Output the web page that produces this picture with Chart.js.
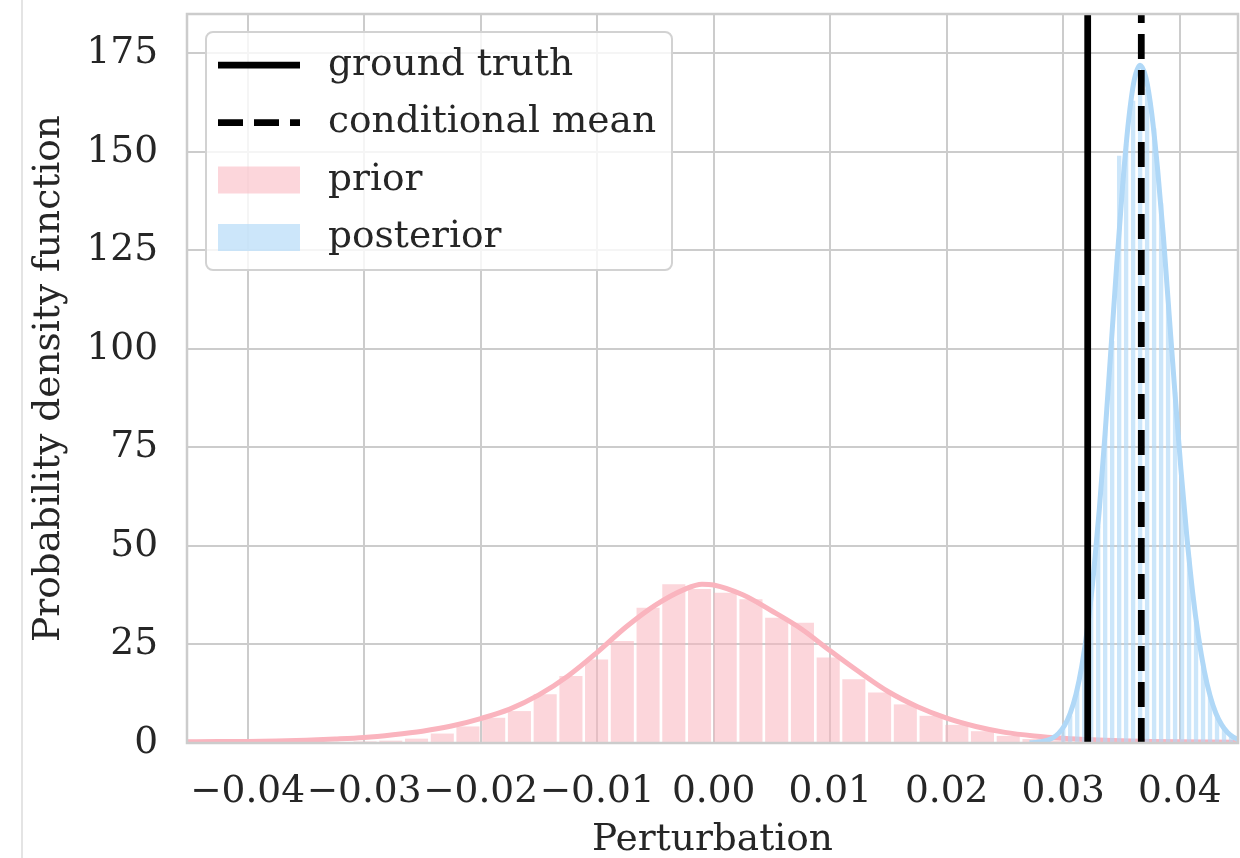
<!DOCTYPE html>
<html>
<head>
<meta charset="utf-8">
<title>Densité prior / posterior</title>
<script src="https://cdn.jsdelivr.net/npm/chart.js@4.4.1/dist/chart.umd.min.js"></script>
<style>
    body { margin: 0; background: #ffffff; }
    #cadre { position: relative; width: 1240px; height: 858px; }
    #bord { position: absolute; left: 21px; top: 0; width: 2px; height: 858px; background: #e4e4e4; }
</style>
</head>
<body>
<div id="cadre">
    <canvas id="graphe"></canvas>
    <div id="bord"></div>
</div>
<script>

// données

// histogramme du prior (centres des classes, densité)
var priorCentres = [-0.04317, -0.04096, -0.03875, -0.03654, -0.03433, -0.03213, -0.02992, -0.02771, -0.02550, -0.02329,
                    -0.02109, -0.01888, -0.01667, -0.01446, -0.01225, -0.01005, -0.00784, -0.00563, -0.00342, -0.00121,
                     0.00099,  0.00320,  0.00541,  0.00762,  0.00983,  0.01203,  0.01424,  0.01645,  0.01866,  0.02087,
                     0.02307,  0.02528,  0.02749,  0.02970,  0.03191,  0.03411,  0.03632,  0.03853,  0.04074];
var priorDensite = [0.02, 0.05, 0.05, 0.1, 0.15, 0.25, 0.4, 0.6, 1.1, 2.4,
                    4.2, 6.4, 8.1, 12.4, 17.0, 21.2, 25.9, 34.3, 40.3, 39.1,
                    38.1, 36.5, 31.8, 30.5, 21.7, 16.2, 12.8, 9.8, 6.9, 4.6,
                    3.0, 1.8, 1.0, 0.6, 0.35, 0.2, 0.1, 0.05, 0.03];

// courbe kde du prior
var priorKdeX = [-0.0455, -0.0425, -0.0400, -0.0375, -0.0350, -0.0325, -0.0300, -0.0275, -0.0250, -0.0225,
                 -0.0200, -0.0175, -0.0150, -0.0125, -0.0100, -0.0075, -0.0050, -0.0025, -0.0010, 0.0000,
                  0.0025,  0.0050,  0.0075,  0.0100,  0.0125,  0.0150,  0.0175,  0.0200,  0.0225, 0.0250,
                  0.0275,  0.0300,  0.0325,  0.0350,  0.0375,  0.0400,  0.0425,  0.0455];
var priorKdeY = [0.3, 0.35, 0.4, 0.5, 0.7, 1.0, 1.4, 2.1, 3.0, 4.3,
                 6.2, 8.6, 12.2, 17.0, 23.0, 29.5, 35.0, 39.0, 40.3, 40.1,
                 37.6, 33.5, 29.0, 23.4, 18.0, 13.0, 9.2, 6.3, 4.2, 2.7,
                 1.8, 1.2, 0.8, 0.55, 0.4, 0.3, 0.25, 0.2];

// histogramme du posterior
var postCentres = [0.0300, 0.0306, 0.0312, 0.0318, 0.0324, 0.0330, 0.0336, 0.0342, 0.0348, 0.0354,
                   0.0360, 0.0366, 0.0372, 0.0378, 0.0384, 0.0390, 0.0396, 0.0402, 0.0408, 0.0414,
                   0.0420, 0.0426, 0.0432, 0.0438, 0.0444, 0.0450];
var postDensite = [3.5, 7, 14, 22, 38, 55, 80, 102, 149, 152,
                   163, 170, 166, 156, 137, 111, 89, 65, 47, 31,
                   20, 12, 7, 4, 2, 1];

// courbe kde du posterior
var postKdeX = [0.0271, 0.0276, 0.0281, 0.0286, 0.0291, 0.0296, 0.0301, 0.0306, 0.0311, 0.0316,
                0.0321, 0.0326, 0.0331, 0.0336, 0.0341, 0.0346, 0.0351, 0.0356, 0.0361, 0.0366,
                0.0371, 0.0376, 0.0381, 0.0386, 0.0391, 0.0396, 0.0401, 0.0406, 0.0411, 0.0416,
                0.0421, 0.0426, 0.0431, 0.0436, 0.0441, 0.0446, 0.0451];
var postKdeY = [0.07, 0.15, 0.33, 0.66, 1.3, 2.44, 4.4, 7.55, 12.4, 19.6,
                29.6, 42.9, 59.4, 78.8, 100.2, 121.7, 141.5, 157.7, 168.3, 172,
                168.8, 159.7, 145.6, 128.4, 108.3, 88.4, 69.5, 52.7, 38.4, 27.1,
                18.4, 12.0, 7.55, 4.6, 2.68, 1.52, 0.82];

// lignes verticales
var veriteTerrain = 0.0321;
var moyenneConditionnelle = 0.0367;

// axes
var xMin = -0.0452, xMax = 0.0450;
var yMin = 0, yMax = 185;
var xPas = 0.01, yPas = 25;

// couleurs
var priorTrait = "rgb(250,180,190)";
var priorRemplissage = "rgba(250,180,190,0.55)";
var postTrait = "rgb(176,216,247)";
var postRemplissage = "rgba(176,216,247,0.65)";
var grille = "#cccccc";
var texte = "#262626";

// fonctions complémentaires

function paires(xs, ys){
    var res = [];
    for(let i = 0; i < xs.length; i++){
        res.push({x: xs[i], y: ys[i]});
    }
    return res;
}

function ligneVerticale(x){
    return [{x: x, y: yMin}, {x: x, y: yMax}];
}

function formatTick(v){
    if (Math.abs(v) < 1e-9) return "0.00";
    return v.toFixed(2).replace("-", "\u2212");
}

// cadre autour de la zone de tracé
const cadrePlugin = {
    id: "cadre",
    afterDatasetsDraw(chart){
        const ctx = chart.ctx;
        const z = chart.chartArea;
        ctx.save();
        ctx.strokeStyle = grille;
        ctx.lineWidth = 2.5;
        ctx.strokeRect(z.left, z.top, z.right - z.left, z.bottom - z.top);
        ctx.restore();
    }
};

// légende dans le graphe
var legendeEntrees = [
    {texte: "ground truth", type: "trait", couleur: "#000000", pointille: []},
    {texte: "conditional mean", type: "trait", couleur: "#000000", pointille: [25, 11]},
    {texte: "prior", type: "patch", couleur: priorRemplissage},
    {texte: "posterior", type: "patch", couleur: postRemplissage}
];

const legendePlugin = {
    id: "legendeInterne",
    afterDraw(chart){
        const ctx = chart.ctx;
        const z = chart.chartArea;
        const x0 = z.left + 19, y0 = z.top + 18;
        const larg = 466, haut = 238;
        ctx.save();
        ctx.beginPath();
        ctx.roundRect(x0, y0, larg, haut, 7);
        ctx.fillStyle = "rgba(255,255,255,0.8)";
        ctx.fill();
        ctx.lineWidth = 2;
        ctx.strokeStyle = "#d2d2d2";
        ctx.stroke();

        ctx.font = "37.5px 'DejaVu Serif'";
        ctx.textBaseline = "middle";
        ctx.textAlign = "left";
        legendeEntrees.forEach((e, i) => {
            const yc = y0 + 33 + i * 57.5;
            if (e.type == "trait"){
                ctx.beginPath();
                ctx.setLineDash(e.pointille);
                ctx.strokeStyle = e.couleur;
                ctx.lineWidth = 6.75;
                ctx.moveTo(x0 + 12, yc);
                ctx.lineTo(x0 + 94, yc);
                ctx.stroke();
                ctx.setLineDash([]);
            } else {
                ctx.fillStyle = e.couleur;
                ctx.fillRect(x0 + 12, yc - 13.5, 82, 27);
            }
            ctx.fillStyle = texte;
            ctx.fillText(e.texte, x0 + 122, yc);
        });
        ctx.restore();
    }
};

// graphe

Chart.defaults.font.family = "'DejaVu Serif', serif";
Chart.defaults.font.size = 37.5;
Chart.defaults.color = texte;

var chart = new Chart(document.getElementById("graphe"), {
    type: "bar",
    data: {
        datasets: [
            {
                type: "line", label: "ground truth",
                data: ligneVerticale(veriteTerrain),
                borderColor: "#000000", borderWidth: 6.75,
                pointRadius: 0, clip: 0, order: 1
            },
            {
                type: "line", label: "conditional mean",
                data: ligneVerticale(moyenneConditionnelle),
                borderColor: "#000000", borderWidth: 6.75, borderDash: [25, 11],
                pointRadius: 0, clip: 0, order: 0
            },
            {
                type: "bar", label: "prior",
                data: paires(priorCentres, priorDensite),
                backgroundColor: priorRemplissage,
                xAxisID: "x", grouped: false,
                barPercentage: 0.9, categoryPercentage: 1.0,
                order: 6
            },
            {
                type: "line", label: "prior kde",
                data: paires(priorKdeX, priorKdeY),
                borderColor: priorTrait, borderWidth: 5,
                pointRadius: 0, cubicInterpolationMode: "monotone",
                clip: 0, order: 5
            },
            {
                type: "bar", label: "posterior",
                data: paires(postCentres, postDensite),
                backgroundColor: postRemplissage,
                xAxisID: "x2", grouped: false,
                barPercentage: 0.62, categoryPercentage: 1.0,
                order: 4
            },
            {
                type: "line", label: "posterior kde",
                data: paires(postKdeX, postKdeY),
                borderColor: postTrait, borderWidth: 5,
                pointRadius: 0, cubicInterpolationMode: "monotone",
                clip: 0, order: 3
            }
        ]
    },
    options: {
        responsive: true,
        maintainAspectRatio: false,
        animation: false,
        events: [],
        layout: { padding: { left: 0, right: 2, top: 14, bottom: 0 } },
        plugins: {
            legend: { display: false },
            tooltip: { enabled: false }
        },
        scales: {
            x: {
                type: "linear", min: xMin, max: xMax, offset: false,
                grid: { color: grille, lineWidth: 2, drawTicks: false, offset: false },
                border: { display: false },
                ticks: {
                    stepSize: xPas, includeBounds: false, autoSkip: false,
                    maxRotation: 0, minRotation: 0, padding: 27,
                    callback: v => formatTick(v)
                },
                title: { display: true, text: "Perturbation", padding: { top: 0, bottom: -4.5 } },
                afterFit: s => { s.height = 115; s.paddingLeft = 0; s.paddingRight = 0; }
            },
            x2: {
                type: "linear", axis: "x", position: "bottom",
                min: xMin, max: xMax, offset: false, display: false
            },
            y: {
                type: "linear", min: yMin, max: yMax,
                grid: { color: grille, lineWidth: 2, drawTicks: false },
                border: { display: false },
                ticks: { stepSize: yPas, includeBounds: false, padding: 29 },
                title: { display: true, text: "Probability density function", padding: { top: 27, bottom: 0 } },
                afterFit: s => { s.width = 187; s.paddingTop = 0; s.paddingBottom = 0; }
            }
        }
    },
    plugins: [cadrePlugin, legendePlugin]
});

</script>
</body>
</html>
